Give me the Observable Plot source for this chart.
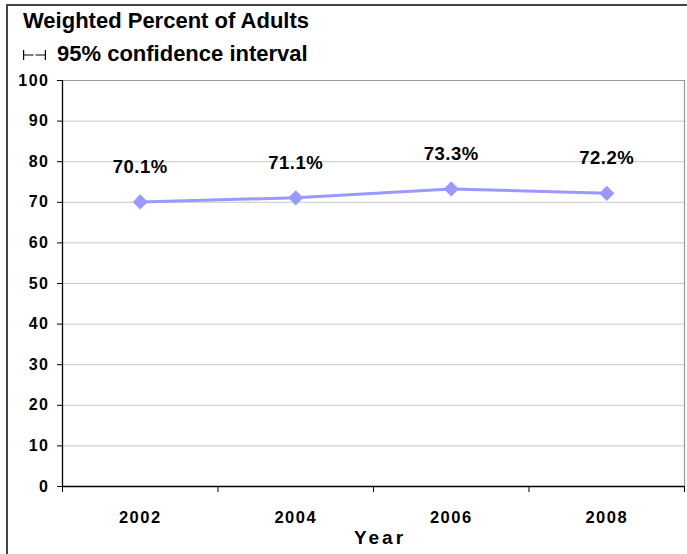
<!DOCTYPE html>
<html>
<head>
<meta charset="utf-8">
<script src="https://cdn.jsdelivr.net/npm/d3@7"></script>
<script src="https://cdn.jsdelivr.net/npm/@observablehq/plot@0.6"></script>
<style>
  html, body { margin: 0; padding: 0; background: #fff; overflow: hidden; }
  body { width: 687px; height: 554px; position: relative; font-family: "Liberation Sans", Arial, sans-serif; }
  #frame { position: absolute; left: 6px; top: 4px; width: 900px; height: 800px; border: 2px solid #444; }
  #title { position: absolute; left: 23px; top: 10px; line-height: 22px; font-size: 22px; font-weight: bold; color: #000; white-space: nowrap; }
  #subtitle { position: absolute; left: 23px; top: 43px; line-height: 22px; font-size: 22px; font-weight: bold; color: #000; white-space: nowrap; }
  #subtitle svg { vertical-align: baseline; margin-right: 11px; }
  #chart { position: absolute; left: 0; top: 64px; }
  #xlabel { position: absolute; left: 0; width: 760px; top: 527px; text-align: center; font-size: 19px; font-weight: bold; letter-spacing: 3px; }
</style>
</head>
<body>
<div id="frame"></div>
<div id="title">Weighted Percent of Adults</div>
<div id="subtitle"><svg width="23" height="12" viewBox="0 0 23 12"><g stroke="#000" stroke-width="1.2" fill="none"><path d="M0.6,1V11M0.6,6H10.5M12.5,6H22.4M22.4,1V11"/></g></svg>95% confidence interval</div>
<div id="chart"></div>
<div id="xlabel">Year</div>
<script>
const years = [2002, 2004, 2006, 2008];
const percents = [70.1, 71.1, 73.3, 72.2];
const yTicks = [0, 10, 20, 30, 40, 50, 60, 70, 80, 90, 100];

const data = years.map((year, i) => ({year, pct: percents[i]}));
const bounds = [years[0] - 1, ...years.map(y => y + 1)];
const x0 = bounds[0], x1 = bounds[bounds.length - 1];

const chart = Plot.plot({
  width: 687,
  height: 490,
  marginLeft: 62,
  marginRight: 3,
  marginTop: 16,
  marginBottom: 68,
  x: {domain: [x0, x1], ticks: bounds, tickFormat: () => "", tickSize: 6, label: null},
  y: {domain: [0, 100], ticks: yTicks, tickSize: 5, tickPadding: 8, label: null, tickFormat: d => String(d)},
  style: {
    fontFamily: "'Liberation Sans', Arial, sans-serif",
    fontSize: "16px",
    fontWeight: "bold",
    color: "#000",
    background: "transparent",
    letterSpacing: "1.5px",
    overflow: "visible"
  },
  marks: [
    Plot.ruleY(yTicks.filter(t => t > 0 && t < 100), {stroke: "#c8c8c8", strokeWidth: 1}),
    Plot.ruleY([100], {stroke: "#999", strokeWidth: 1.2}),
    Plot.ruleX([x1], {stroke: "#999", strokeWidth: 1.2}),
    Plot.ruleX([x0], {stroke: "#000", strokeWidth: 1.3}),
    Plot.ruleY([0], {stroke: "#000", strokeWidth: 1.3}),
    Plot.line(data, {x: "year", y: "pct", stroke: "#9999ff", strokeWidth: 3}),
    Plot.dot(data, {x: "year", y: "pct", symbol: "diamond2", r: 6.8, fill: "#9999ff", stroke: "none"}),
    Plot.text(data, {x: "year", y: "pct", text: d => d.pct.toFixed(1) + "%", dy: -35, fontSize: 18.5, fontWeight: "bold", fill: "#000"}),
    Plot.text(years, {x: d => d, y: () => 0, dy: 31, text: d => String(d), fontSize: 16.5, fontWeight: "bold", fill: "#000"})
  ]
});
chart.querySelectorAll("g[aria-label='text'] text").forEach(t => {
  if (t.textContent.endsWith("%")) t.style.letterSpacing = "0.5px";
});
document.getElementById("chart").appendChild(chart);
</script>
</body>
</html>
